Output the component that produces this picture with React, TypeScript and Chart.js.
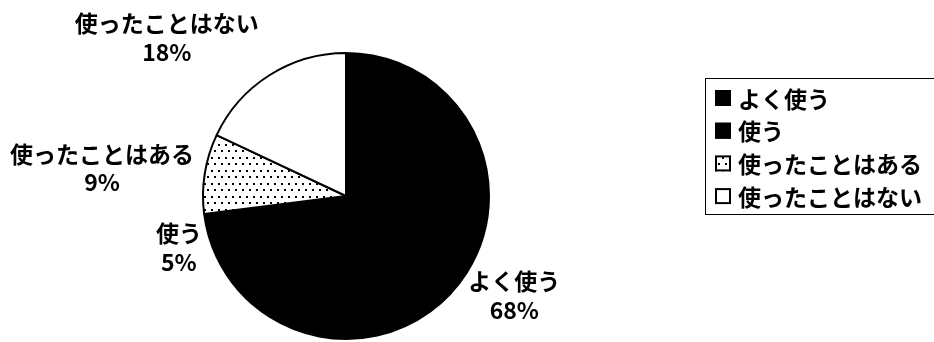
import React, { useEffect, useRef } from "react";
import { Chart, registerables } from "chart.js";

Chart.register(...registerables);

const categories = ["よく使う", "使う", "使ったことはある", "使ったことはない"];
const values = [68, 5, 9, 18];
const fills = ["#000000", "#000000", "dots", "#ffffff"];

const FONT = '"Noto Sans CJK JP", "Noto Sans", sans-serif';

function makeDots(): CanvasPattern | string {
  const c = document.createElement("canvas");
  c.width = 7;
  c.height = 13;
  const g = c.getContext("2d");
  if (!g) return "#ffffff";
  g.fillStyle = "#ffffff";
  g.fillRect(0, 0, 7, 13);
  g.fillStyle = "#000000";
  g.fillRect(1, 1, 2, 2);
  g.fillRect(4, 7, 2, 2);
  return g.createPattern(c, "repeat") || "#ffffff";
}

const labelPlugin = {
  id: "sliceLabels",
  afterDatasetsDraw(chart: any) {
    const ctx = chart.ctx;
    const meta = chart.getDatasetMeta(0);
    const data = chart.data.datasets[0].data as number[];
    const total = data.reduce((a, b) => a + b, 0);
    const shifts = [[2, 4], [0, 2], [-4, 0], [-49, -8]];
    ctx.save();
    ctx.font = `bold 23px ${FONT}`;
    ctx.fillStyle = "#000";
    ctx.textAlign = "center";
    ctx.textBaseline = "middle";
    meta.data.forEach((arc: any, i: number) => {
      const p = arc.getProps(["x", "y", "startAngle", "endAngle", "outerRadius"], true);
      const mid = (p.startAngle + p.endAngle) / 2;
      const dx = Math.cos(mid);
      const dy = Math.sin(mid);
      const ax = p.x + (p.outerRadius + 8) * dx;
      const ay = p.y + (p.outerRadius + 8) * dy;
      const name = chart.data.labels[i];
      const pct = Math.round((data[i] / total) * 100) + "%";
      const w = Math.max(ctx.measureText(name).width, ctx.measureText(pct).width);
      const h = 54;
      const cx = ax + (dx * w) / 2 + shifts[i][0];
      const cy = ay + (dy * h) / 2 + shifts[i][1];
      ctx.fillText(name, cx, cy - 14);
      ctx.fillText(pct, cx, cy + 14.5);
    });
    ctx.restore();
  },
};

const legendPlugin = {
  id: "boxLegend",
  afterDraw(chart: any) {
    const ctx = chart.ctx;
    const bg = chart.data.datasets[0].backgroundColor as any[];
    const left = 705;
    const top = 78;
    const width = 240;
    const height = 136;
    ctx.save();
    ctx.strokeStyle = "#000";
    ctx.lineWidth = 1;
    ctx.strokeRect(left + 0.5, top + 0.5, width, height);
    ctx.font = `bold 23px ${FONT}`;
    ctx.textAlign = "left";
    ctx.textBaseline = "middle";
    (chart.data.labels as string[]).forEach((lab, i) => {
      const cy = top + 20 + i * 32.7;
      const s = 16;
      const mx = left + 10;
      const my = cy - s / 2;
      ctx.fillStyle = bg[i];
      ctx.fillRect(mx, my, s, s);
      ctx.lineWidth = 2;
      ctx.strokeStyle = "#000";
      ctx.strokeRect(mx + 1, my + 1, s - 2, s - 2);
      ctx.fillStyle = "#000";
      ctx.fillText(lab, left + 33, cy + 1);
    });
    ctx.restore();
  },
};

export default function App() {
  const ref = useRef<HTMLCanvasElement | null>(null);
  useEffect(() => {
    if (!ref.current) return;
    const dots = makeDots();
    const bg = fills.map((f) => (f === "dots" ? dots : f));
    const chart = new Chart(ref.current, {
      type: "pie",
      data: {
        labels: categories,
        datasets: [
          {
            data: values,
            backgroundColor: bg as any,
            borderColor: "#000000",
            borderWidth: 2,
          },
        ],
      },
      options: {
        animation: false,
        responsive: false,
        devicePixelRatio: 1,
        layout: { padding: { left: 202, right: 444, top: 52, bottom: 2 } },
        plugins: {
          legend: { display: false },
          tooltip: { enabled: false },
        },
      },
      plugins: [labelPlugin, legendPlugin],
    });
    return () => chart.destroy();
  }, []);
  return (
    <div style={{ position: "fixed", left: 0, top: 0, width: 934, height: 342, background: "#fff" }}>
      <canvas ref={ref} width={934} height={342} />
    </div>
  );
}
